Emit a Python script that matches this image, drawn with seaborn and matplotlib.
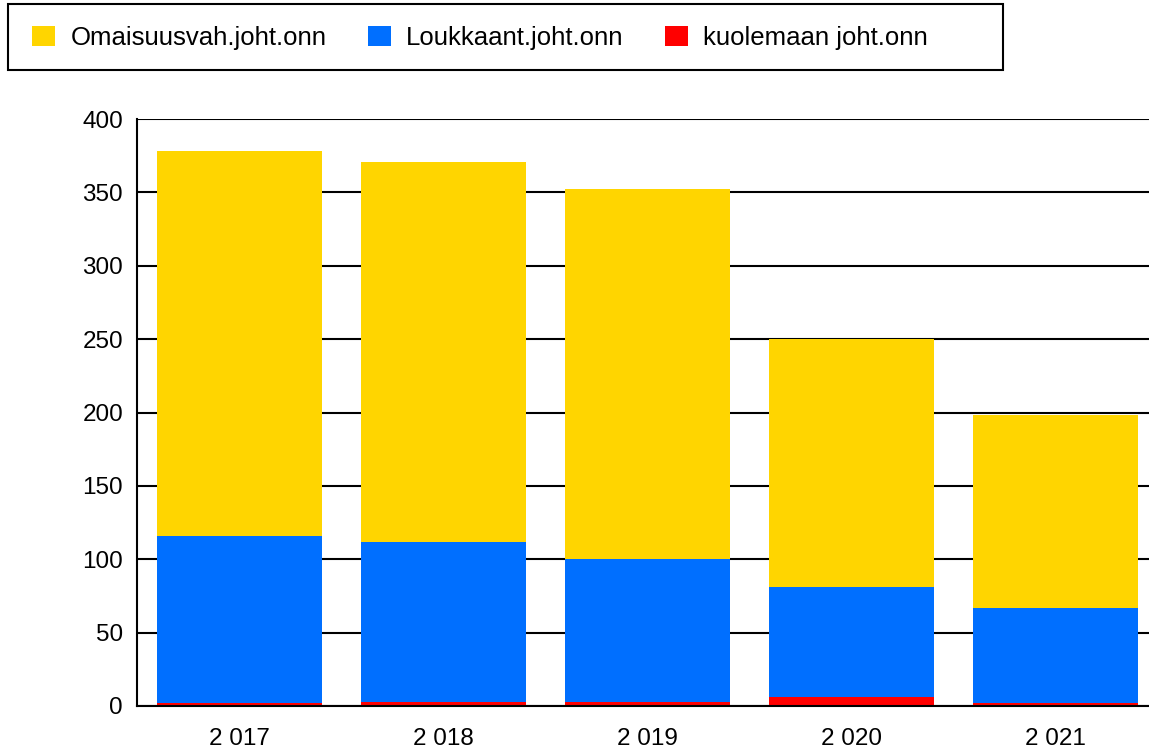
import numpy as np
import pandas as pd
import matplotlib
matplotlib.use("Agg")
import matplotlib.pyplot as plt
import seaborn as sns
from matplotlib.patches import Patch, Rectangle

# Data
years = ["2 017", "2 018", "2 019", "2 020", "2 021"]
omaisuus = [262, 259, 252, 169, 131]   # Omaisuusvah.joht.onn
loukkaant = [114, 109, 97, 75, 65]     # Loukkaant.joht.onn
kuolema = [2, 3, 3, 6, 2]              # kuolemaan joht.onn

labels = ["Omaisuusvah.joht.onn", "Loukkaant.joht.onn", "kuolemaan joht.onn"]
colors = ["#FFD500", "#006FFF", "#FF0000"]

sns.set_theme(style="white")
plt.rcParams['font.family'] = ['Liberation Sans', 'DejaVu Sans']
plt.rcParams['text.color'] = 'black'
plt.rcParams['xtick.color'] = 'black'
plt.rcParams['ytick.color'] = 'black'

df = pd.DataFrame({"year": years, "red": kuolema, "blue": loukkaant, "yellow": omaisuus})
# stacked bars drawn as overlapping cumulative totals
df["cum_red"] = df["red"]
df["cum_blue"] = df["red"] + df["blue"]
df["cum_yellow"] = df["cum_blue"] + df["yellow"]

fig = plt.figure(figsize=(11.49, 7.52), dpi=100)
ax = fig.add_axes([137 / 1149, 1 - 706 / 752, 1012 / 1149, 587 / 752])

for col, c in zip(["cum_yellow", "cum_blue", "cum_red"], colors):
    sns.barplot(data=df, x="year", y=col, color=c, width=0.81, saturation=1,
                linewidth=0, edgecolor="none", ax=ax, zorder=3)

ax.set_ylim(0, 400)
ax.set_xlim(-0.505, 4.46)
ax.set_yticks(np.arange(0, 401, 50))
ax.yaxis.grid(True, color="black", linewidth=1.5, zorder=0)
ax.set_axisbelow(True)
ax.set_xlabel("")
ax.set_ylabel("")
ax.tick_params(axis="both", length=0, labelsize=17.5, labelcolor="black")
ax.tick_params(axis="y", pad=10)
ax.tick_params(axis="x", pad=16)
for s in ["top", "right"]:
    ax.spines[s].set_visible(False)
for s in ["left", "bottom"]:
    ax.spines[s].set_color("black")
    ax.spines[s].set_linewidth(1.5)
    ax.spines[s].set_zorder(5)

# legend box drawn as a plain frame, entries placed inside
fig.patches.append(Rectangle((8 / 1149, 1 - 70 / 752), 995 / 1149, 66 / 752,
                             transform=fig.transFigure, fill=False,
                             edgecolor="black", linewidth=1.5))
handles = [Patch(facecolor=c, edgecolor="none") for c in colors]
leg = fig.legend(handles, labels, ncol=3, loc="center left",
                 bbox_to_anchor=(32 / 1149, 1 - 38 / 752),
                 borderaxespad=0, borderpad=0, fontsize=18.5,
                 handlelength=0.9, handleheight=0.85, handletextpad=0.6,
                 columnspacing=1.6, frameon=False, labelcolor="black")

fig.savefig("out.png", dpi=100)
